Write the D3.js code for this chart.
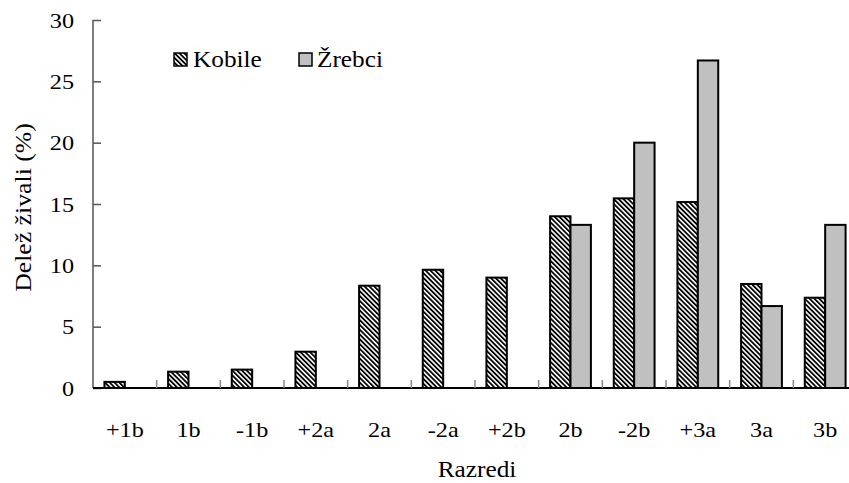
<!DOCTYPE html>
<html><head><meta charset="utf-8">
<script src="https://cdn.jsdelivr.net/npm/d3@7"></script>
<style>body{margin:0;background:#fff}svg{display:block}text{font-family:"Liberation Serif","Times New Roman",serif;fill:#000}</style>
</head><body><svg id="c" width="849" height="483"></svg>
<script>
const categories = ["+1b","1b","-1b","+2a","2a","-2a","+2b","2b","-2b","+3a","3a","3b"];
const seriesNames = ["Kobile","Žrebci"];
const kobile = [0.5,1.33,1.5,2.96,8.34,9.64,9.0,14.0,15.46,15.16,8.48,7.36];
const zrebci = [null,null,null,null,null,null,null,13.3,20.0,26.7,6.68,13.3];
const yTicks = [0,5,10,15,20,25,30];

(function(){
const svg = d3.select("#c");
const mL = 93, mR = 857, mT = 20, mB = 388;
const SX = 1.1;
const x = d3.scaleBand().domain(categories).range([mL, mR]);
const x1 = d3.scaleBand().domain(seriesNames).range([0, x.bandwidth()]).paddingOuter(0.56);
const y = d3.scaleLinear().domain([0,30]).range([mB, mT]);

const defs = svg.append("defs");
const pat = defs.append("pattern").attr("id","hatch").attr("patternUnits","userSpaceOnUse")
  .attr("width",3.4).attr("height",10).attr("patternTransform","rotate(-45)");
pat.append("rect").attr("width",3.4).attr("height",10).attr("fill","#fff");
pat.append("rect").attr("width",1.8).attr("height",10).attr("fill","#000");

const fills = {"Kobile":"url(#hatch)","Žrebci":"#c0c0c0"};
const data = categories.map((c,i)=>({c, vals:[{s:"Kobile",v:kobile[i]},{s:"Žrebci",v:zrebci[i]}]}));

const g = svg.append("g");
data.forEach(d=>{
  d.vals.filter(e=>e.v!=null).forEach(e=>{
    g.append("rect")
      .attr("x", x(d.c)+x1(e.s)).attr("y", y(e.v))
      .attr("width", x1.bandwidth()).attr("height", y(0)-y(e.v))
      .attr("fill", fills[e.s]).attr("stroke","#000").attr("stroke-width",2);
  });
});

const ya = svg.append("g").attr("transform",`translate(${mL},0)`)
  .call(d3.axisRight(y).tickValues(yTicks).tickSize(8).tickFormat(""));
ya.select(".domain").attr("stroke","#555").attr("stroke-width",1.5).attr("d",`M0,${mT}V${mB}`);
ya.selectAll(".tick line").attr("stroke","#555").attr("stroke-width",1.5);
svg.append("g").selectAll("text").data(yTicks).join("text")
  .attr("transform", d=>`translate(74,${y(d)}) scale(${SX},1)`).attr("dy","0.35em").attr("text-anchor","end")
  .attr("font-size",22).text(d=>d);

const xa = svg.append("g").attr("transform",`translate(0,${mB})`)
  .call(d3.axisBottom(x).tickSize(0).tickFormat(""));
xa.select(".domain").attr("stroke","#000").attr("stroke-width",2).attr("d",`M${mL},0H${mR}`);
svg.append("g").selectAll("line").data(categories.slice(1)).join("line")
  .attr("x1",d=>x(d)).attr("x2",d=>x(d)).attr("y1",mB-8).attr("y2",mB)
  .attr("stroke","#888").attr("stroke-width",1.5);
svg.append("g").selectAll("text").data(categories).join("text")
  .attr("transform", d=>`translate(${x(d)+x.bandwidth()/2},437) scale(${SX},1)`).attr("text-anchor","middle")
  .attr("font-size",22).text(d=>d);

svg.append("text").attr("transform",`translate(477,477) scale(${SX},1)`).attr("text-anchor","middle")
  .attr("font-size",23).text("Razredi");
svg.append("text").attr("transform",`translate(31,${(123+292)/2}) rotate(-90) scale(1.12,1)`)
  .attr("text-anchor","middle").attr("font-size",23).text("Delež živali (%)");

const leg = [{s:"Kobile",bx:174,tx:193},{s:"Žrebci",bx:299,tx:317}];
leg.forEach(l=>{
  svg.append("rect").attr("x",l.bx).attr("y",53).attr("width",13).attr("height",13)
    .attr("fill",fills[l.s]).attr("stroke","#000").attr("stroke-width",1.5);
  svg.append("text").attr("transform",`translate(${l.tx},67) scale(${SX},1)`).attr("font-size",23).text(l.s);
});
})();
</script></body></html>
